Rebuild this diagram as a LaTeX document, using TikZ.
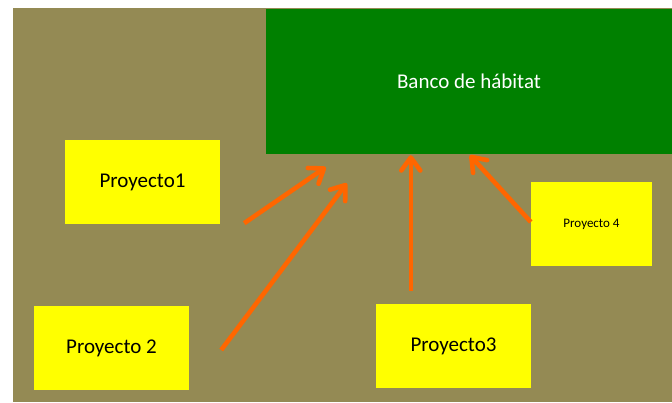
\documentclass[tikz,border=0pt]{standalone}
\usepackage{fontspec}
\setmainfont{Carlito}
\usetikzlibrary{arrows.meta, positioning, calc}
\definecolor{fondo}{HTML}{948A54}
\definecolor{verde}{HTML}{008000}
\definecolor{amarillo}{HTML}{FFFF00}
\definecolor{naranja}{HTML}{FF6600}
\tikzset{
	banco/.style={rectangle, inner sep=0pt, minimum width=406pt, minimum height=145pt, fill=verde, text=white, font=\fontsize{21}{25}\selectfont},
	proyecto/.style={rectangle, inner sep=0pt, minimum width=155pt, minimum height=84pt, fill=amarillo, font=\fontsize{21}{25}\selectfont},
	% the small one on the right
	proyectochico/.style={proyecto, minimum width=121pt, font=\fontsize{13}{15}\selectfont},
}
\begin{document}
\begin{tikzpicture}[x=1pt, y=-1pt]
	\useasboundingbox (0,0) rectangle (672,402);
	\fill[fondo] (13,8) rectangle (672,402);

	\node (banco) [banco] at (469,81.5) {Banco de hábitat};
	\node (p1) [proyecto] at (142.5,182) {Proyecto1};
	\node (p2) [proyecto] at (111.5,348) {Proyecto 2};
	\node (p3) [proyecto] at (453.5,346) {Proyecto3};
	\node (p4) [proyectochico] at (591.5,224) {Proyecto 4};

	\begin{scope}[naranja, line width=4.6pt, -{Straight Barb[length=13pt, width=19pt, round]}]
		\draw ($(p1.south east)+(24,-1)$) -- ($(banco.south west)+(60,13)$);
		\draw ($(p2.east)+(32,2)$) -- ($(banco.south west)+(81,29)$);
		\draw ($(p3.north west)+(35,-13)$) -- ($(banco.south west)+(145,1)$);
		\draw ($(p4.west)+(0,-2)$) -- ($(banco.south west)+(204,1)$);
	\end{scope}
\end{tikzpicture}
\end{document}
